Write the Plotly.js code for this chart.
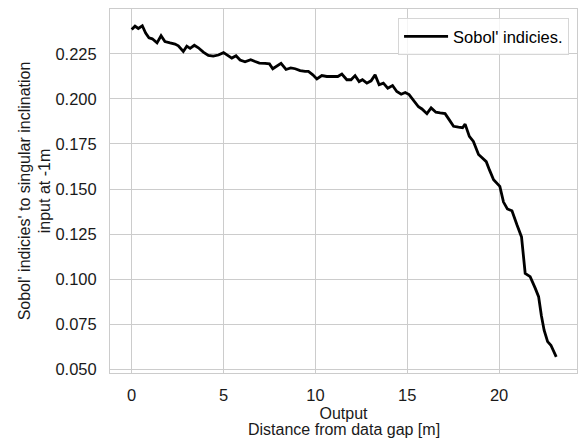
<!DOCTYPE html>
<html>
<head>
<meta charset="utf-8">
<script src="https://cdn.plot.ly/plotly-3.0.1.min.js"></script>
<style>html,body{margin:0;padding:0;background:#fff;}#chart{width:578px;height:443px;}</style>
</head>
<body>
<div id="chart"></div>
<script>
// Distance from data gap [m]
const distance = [0, 0.18, 0.36, 0.58, 0.76, 0.94, 1.12, 1.38, 1.6, 1.81, 2.09, 2.36, 2.54, 2.81, 3.0, 3.18, 3.41, 3.63, 3.9, 4.17, 4.44, 4.72, 5.0, 5.26, 5.45, 5.68, 5.9, 6.17, 6.48, 6.72, 6.95, 7.26, 7.5, 7.68, 7.93, 8.13, 8.4, 8.66, 8.9, 9.17, 9.44, 9.62, 9.86, 10.08, 10.35, 10.62, 10.98, 11.22, 11.44, 11.71, 11.94, 12.16, 12.38, 12.56, 12.8, 13.03, 13.25, 13.47, 13.7, 13.94, 14.2, 14.43, 14.67, 14.89, 15.1, 15.34, 15.61, 15.8, 16.07, 16.3, 16.56, 16.79, 17.06, 17.28, 17.52, 17.79, 18.01, 18.15, 18.38, 18.6, 18.88, 19.06, 19.3, 19.48, 19.7, 20.04, 20.24, 20.45, 20.7, 20.97, 21.22, 21.42, 21.69, 21.97, 22.15, 22.3, 22.45, 22.64, 22.82, 23.11];
// Sobol' indices
const sobol = [0.2385, 0.2403, 0.2390, 0.2405, 0.2365, 0.2338, 0.2333, 0.2310, 0.2350, 0.2318, 0.2310, 0.2304, 0.2294, 0.2263, 0.2292, 0.2280, 0.2297, 0.2283, 0.2259, 0.2241, 0.2237, 0.2243, 0.2256, 0.2240, 0.2226, 0.2239, 0.2215, 0.2205, 0.2217, 0.2207, 0.2198, 0.2197, 0.2194, 0.2167, 0.2183, 0.2197, 0.2163, 0.2172, 0.2167, 0.2157, 0.2152, 0.2152, 0.2133, 0.2110, 0.2129, 0.2124, 0.2124, 0.2124, 0.2137, 0.2106, 0.2106, 0.2129, 0.2096, 0.2106, 0.2087, 0.2100, 0.2133, 0.2078, 0.2087, 0.2059, 0.2074, 0.2041, 0.2026, 0.2035, 0.2024, 0.1990, 0.1956, 0.1944, 0.1918, 0.1950, 0.1926, 0.1922, 0.1918, 0.1885, 0.1848, 0.1843, 0.1840, 0.1860, 0.1792, 0.1764, 0.1692, 0.1675, 0.1652, 0.1605, 0.1552, 0.1515, 0.1428, 0.1390, 0.1380, 0.1302, 0.1235, 0.1033, 0.1015, 0.0950, 0.0904, 0.0800, 0.0718, 0.0655, 0.0635, 0.0570];
const seriesName = "Sobol' indicies.";
const xTickVals = [0, 5, 10, 15, 20];
const yTickVals = [0.050, 0.075, 0.100, 0.125, 0.150, 0.175, 0.200, 0.225];
const yTickText = ['0.050', '0.075', '0.100', '0.125', '0.150', '0.175', '0.200', '0.225'];
const xTitleTop = 'Output';
const xTitleBottom = 'Distance from data gap [m]';
const yTitle = "Sobol' indicies' to singular inclination<br>input at -1m";

const FONT = 'Liberation Sans, Arial, Helvetica, sans-serif';
const GRID = '#cccccc';
const TXT = '#1a1a1a';

const trace = {
  x: distance, y: sobol, type: 'scatter', mode: 'lines', name: seriesName,
  line: {color: '#000000', width: 2.8}
};

const layout = {
  width: 578, height: 443,
  margin: {l: 110, r: 1, t: 9, b: 70, pad: 0},
  paper_bgcolor: '#ffffff', plot_bgcolor: '#ffffff',
  font: {family: FONT, size: 16, color: TXT},
  showlegend: true,
  legend: {
    x: 0.983, y: 0.975, xanchor: 'right', yanchor: 'top',
    bgcolor: 'rgba(255,255,255,0.8)', bordercolor: '#d6d6d6', borderwidth: 1,
    itemwidth: 44,
    font: {family: FONT, size: 16.5, color: '#000000'}
  },
  xaxis: {
    range: [-1.18, 24.24], tickvals: xTickVals, ticktext: xTickVals.map(String),
    showgrid: true, gridcolor: GRID, gridwidth: 1, zeroline: false,
    showline: true, linecolor: GRID, linewidth: 1, mirror: true,
    ticks: 'outside', ticklen: 7, tickcolor: 'rgba(0,0,0,0)',
    tickfont: {family: FONT, size: 16.5, color: TXT},
    automargin: false,
    title: {text: xTitleTop, standoff: 5, font: {family: FONT, size: 16, color: TXT}}
  },
  yaxis: {
    range: [0.0481, 0.2498], tickvals: yTickVals, ticktext: yTickText,
    showgrid: true, gridcolor: GRID, gridwidth: 1, zeroline: false,
    showline: true, linecolor: GRID, linewidth: 1, mirror: true,
    ticks: 'outside', ticklen: 9, tickcolor: 'rgba(0,0,0,0)',
    tickfont: {family: FONT, size: 16.5, color: TXT},
    automargin: false,
    title: {text: yTitle, standoff: 0, font: {family: FONT, size: 16, color: TXT}}
  },
  annotations: [{
    text: xTitleBottom, xref: 'paper', yref: 'paper', x: 0.5, y: 0,
    xanchor: 'center', yanchor: 'middle', yshift: -56.5, showarrow: false,
    font: {family: FONT, size: 16, color: TXT}
  }]
};

Plotly.newPlot('chart', [trace], layout, {staticPlot: true, displayModeBar: false});
</script>
</body>
</html>
